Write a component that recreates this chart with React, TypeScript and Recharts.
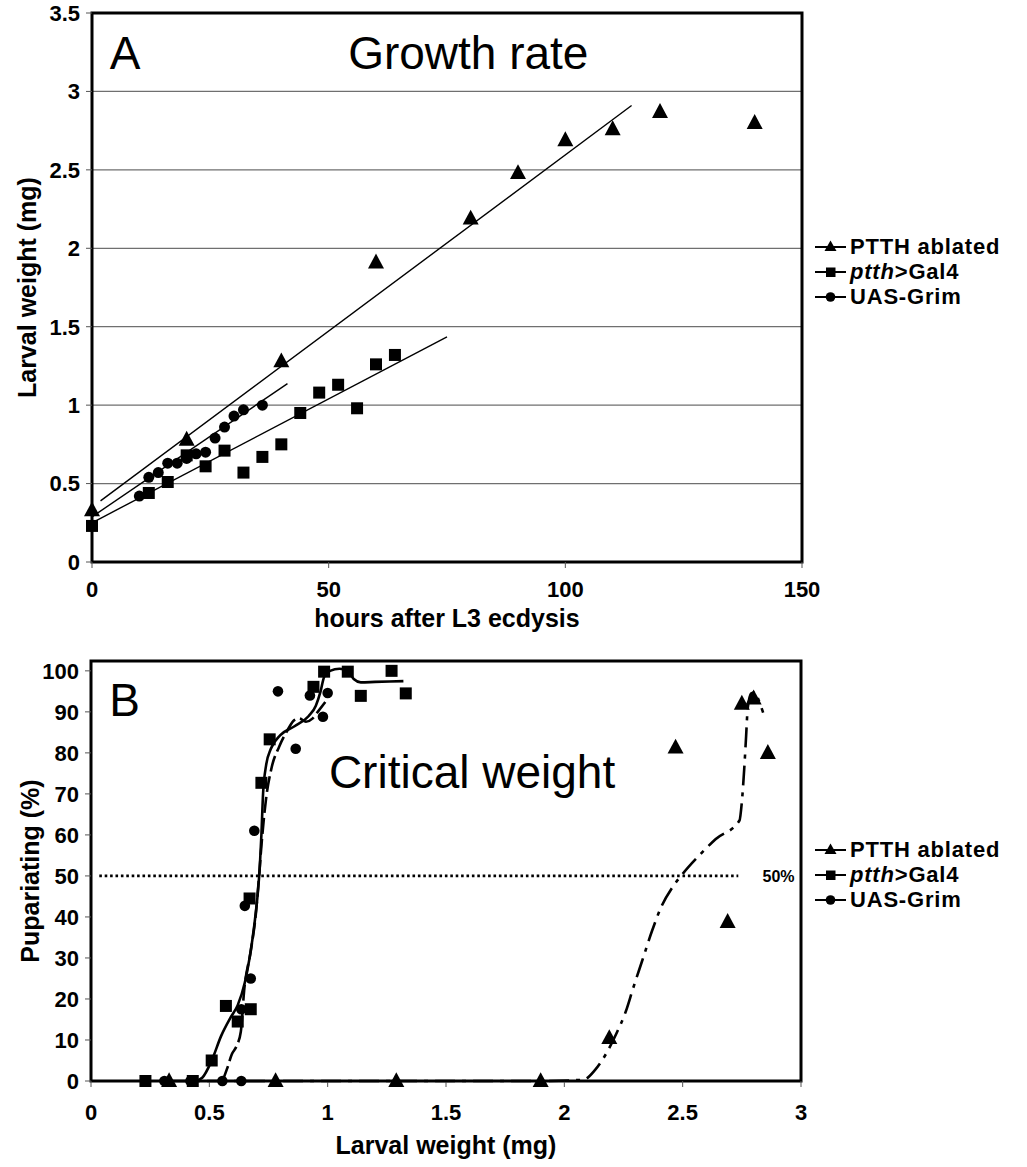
import React from "react";
import {
  ScatterChart,
  Scatter,
  XAxis,
  YAxis,
  CartesianGrid,
  ReferenceArea,
  ReferenceLine,
  ReferenceDot,
  Legend,
} from "recharts";

const FONT = '"Liberation Sans", Arial, Helvetica, sans-serif';

// ---- Panel A: growth rate (hours after L3 ecdysis -> larval weight, mg)
const hoursAblated = [0, 20, 40, 60, 80, 90, 100, 110, 120, 140];
const weightAblated = [0.33, 0.78, 1.28, 1.91, 2.19, 2.48, 2.69, 2.76, 2.87, 2.8];

const hoursGal4 = [0, 12, 16, 20, 24, 28, 32, 36, 40, 44, 48, 52, 56, 60, 64];
const weightGal4 = [0.23, 0.44, 0.51, 0.68, 0.61, 0.71, 0.57, 0.67, 0.75, 0.95, 1.08, 1.13, 0.98, 1.26, 1.32];

const hoursGrim = [10, 12, 14, 16, 18, 20, 22, 24, 26, 28, 30, 32, 36];
const weightGrim = [0.42, 0.54, 0.57, 0.63, 0.63, 0.66, 0.69, 0.7, 0.79, 0.86, 0.93, 0.97, 1.0];

// linear fits (end points as drawn)
const fitHoursAblated = [1.8, 114];
const fitWeightAblated = [0.39, 2.91];
const fitHoursGal4 = [0, 75];
const fitWeightGal4 = [0.25, 1.435];
const fitHoursGrim = [0, 41.3];
const fitWeightGrim = [0.288, 1.137];

const hourTicks = [0, 50, 100, 150];
const weightTicks = [0, 0.5, 1, 1.5, 2, 2.5, 3, 3.5];

// ---- Panel B: critical weight (larval weight, mg -> pupariating, %)
const massAblated = [0.33, 0.78, 1.29, 1.9, 2.19, 2.47, 2.69, 2.75, 2.8, 2.86];
const pctAblated = [0, 0, 0, 0, 10.5, 81.3, 38.8, 92, 93.3, 80];

const massGal4 = [0.23, 0.43, 0.51, 0.57, 0.62, 0.675, 0.67, 0.72, 0.755, 0.94, 0.985, 1.085, 1.14, 1.27, 1.33];
const pctGal4 = [0, 0, 5, 18.3, 14.5, 17.5, 44.5, 72.7, 83.3, 96.1, 99.8, 99.8, 93.9, 100, 94.5];

const massGrim = [0.31, 0.42, 0.555, 0.635, 0.635, 0.65, 0.675, 0.69, 0.79, 0.865, 0.925, 0.98, 1.0];
const pctGrim = [0, 0, 0, 0, 17.5, 42.7, 25, 61, 95, 81, 94, 88.8, 94.6];

// smoothed curves through each genotype
const curveMassGal4 = [0.44, 0.47, 0.51, 0.55, 0.59, 0.62, 0.65, 0.67, 0.69, 0.705, 0.713, 0.72, 0.727, 0.74, 0.76, 0.8, 0.86, 0.92, 0.95, 0.97, 0.985, 1.01, 1.05, 1.085, 1.11, 1.14, 1.2, 1.32];
const curvePctGal4 = [0, 0.8, 5, 11, 15.5, 18.5, 24, 30, 38, 46, 52, 60, 70, 77, 81, 84.3, 86.5, 89, 91.5, 95, 98.5, 100, 100.5, 100, 98, 97.2, 97.3, 97.5];

const curveMassGrim = [0.556, 0.575, 0.595, 0.615, 0.633, 0.647, 0.676, 0.697, 0.711, 0.722, 0.739, 0.764, 0.795, 0.83, 0.859, 0.88, 0.908, 0.937, 0.958, 0.99];
const curvePctGrim = [0, 3, 6.5, 8.5, 12, 22, 32, 41, 50.6, 58.7, 68.5, 76.6, 81.5, 85.5, 88, 88.4, 87.6, 88.4, 90, 92.4];

const curveMassAblated = [0.33, 1.9, 2.08, 2.13, 2.18, 2.22, 2.26, 2.29, 2.33, 2.37, 2.41, 2.46, 2.5, 2.57, 2.64, 2.74, 2.75, 2.76, 2.768, 2.775, 2.79, 2.805, 2.82, 2.84];
const curvePctAblated = [0, 0, 0.3, 2.7, 7, 11.6, 17, 22.5, 29.5, 36.5, 42.5, 47.5, 50.5, 55, 59, 63.5, 68, 76, 84, 91, 94.5, 94.8, 93, 89.8];

const massTicks = [0, 0.5, 1, 1.5, 2, 2.5, 3];
const pctTicks = [0, 10, 20, 30, 40, 50, 60, 70, 80, 90, 100];

const legendNames = ["PTTH ablated", "ptth>Gal4", "UAS-Grim"];

const pts = (xs: number[], ys: number[]) => xs.map((x, i) => ({ x, y: ys[i] }));

const triangle = (w: number) => (p: any) => (
  <path
    d={`M${p.cx},${p.cy - w * 0.55}L${p.cx + w / 2},${p.cy + w * 0.38}L${p.cx - w / 2},${p.cy + w * 0.38}Z`}
    fill="#000"
  />
);
const square = (w: number) => (p: any) => (
  <rect x={p.cx - w / 2} y={p.cy - w / 2} width={w} height={w} fill="#000" />
);
const circle = (r: number) => (p: any) => <circle cx={p.cx} cy={p.cy} r={r} fill="#000" />;
const noMarker = () => <g />;

const tickStyle = { fontSize: 22, fontWeight: 700, fill: "#000", fontFamily: FONT };
const axisTitle = { fontSize: 25, fontWeight: 700, fill: "#000", fontFamily: FONT };
const bigText = { fontSize: 46, fill: "#000", fontFamily: FONT };

function LegendBox() {
  return (
    <div style={{ fontFamily: FONT, fontWeight: 700, fontSize: 22, letterSpacing: 0.8, color: "#000" }}>
      {legendNames.map((name, i) => (
        <div key={name} style={{ display: "flex", alignItems: "center", height: 24.7 }}>
          <svg width={38} height={20}>
            <line x1={3} x2={34} y1={10} y2={10} stroke="#000" strokeWidth={2} />
            {i === 0 && <path d="M18.5,3.5L24.5,14L12.5,14Z" fill="#000" />}
            {i === 1 && <rect x={14} y={5.5} width={9.5} height={9.5} fill="#000" />}
            {i === 2 && <circle cx={18.5} cy={10} r={4.8} fill="#000" />}
          </svg>
          <span style={{ whiteSpace: "nowrap", lineHeight: "22px" }}>
            {i === 1 ? (
              <>
                <i>ptth</i>&gt;Gal4
              </>
            ) : (
              name
            )}
          </span>
        </div>
      ))}
    </div>
  );
}

function GrowthRate() {
  return (
    <ScatterChart width={1027} height={640} margin={{ top: 13, right: 225, left: 0, bottom: 0 }}>
      <CartesianGrid vertical={false} stroke="#6f6f6f" strokeWidth={1.3} />
      <XAxis
        dataKey="x"
        type="number"
        domain={[0, 150]}
        ticks={hourTicks}
        height={78}
        axisLine={false}
        tickSize={6}
        tickMargin={13}
        tickLine={{ stroke: "#555" }}
        tick={tickStyle}
        label={{ value: "hours after L3 ecdysis", position: "insideBottom", offset: 13, ...axisTitle }}
      />
      <YAxis
        dataKey="y"
        type="number"
        domain={[0, 3.5]}
        ticks={weightTicks}
        width={92}
        axisLine={false}
        tickSize={6}
        tickMargin={6}
        tickLine={{ stroke: "#555" }}
        tick={tickStyle}
        label={{
          value: "Larval weight (mg)",
          angle: -90,
          position: "insideLeft",
          offset: 27,
          style: { textAnchor: "middle" },
          ...axisTitle,
        }}
      />
      <Legend
        layout="horizontal"
        align="center"
        verticalAlign="middle"
        width={215}
        wrapperStyle={{ left: 812, top: 235, width: 215 }}
        content={() => <LegendBox />}
      />
      <Scatter data={pts(fitHoursAblated, fitWeightAblated)} line={{ stroke: "#000", strokeWidth: 1.4 }} shape={noMarker} isAnimationActive={false} />
      <Scatter data={pts(fitHoursGal4, fitWeightGal4)} line={{ stroke: "#000", strokeWidth: 1.4 }} shape={noMarker} isAnimationActive={false} />
      <Scatter data={pts(fitHoursGrim, fitWeightGrim)} line={{ stroke: "#000", strokeWidth: 1.4 }} shape={noMarker} isAnimationActive={false} />
      <Scatter name="UAS-Grim" data={pts(hoursGrim, weightGrim)} shape={circle(5.5)} isAnimationActive={false} />
      <Scatter name="ptth>Gal4" data={pts(hoursGal4, weightGal4)} shape={square(12)} isAnimationActive={false} />
      <Scatter name="PTTH ablated" data={pts(hoursAblated, weightAblated)} shape={triangle(16)} isAnimationActive={false} />
      <ReferenceArea x1={0} x2={150} y1={0} y2={3.5} fill="none" stroke="#000" strokeWidth={3} ifOverflow="visible" />
      <ReferenceDot x={7} y={3.25} r={0} stroke="none" label={{ value: "A", position: "center", ...bigText }} />
      <ReferenceDot x={79.5} y={3.25} r={0} stroke="none" label={{ value: "Growth rate", position: "center", ...bigText }} />
    </ScatterChart>
  );
}

function CriticalWeight() {
  return (
    <ScatterChart width={1027} height={527} margin={{ top: 21, right: 226, left: 0, bottom: 0 }}>
      <XAxis
        dataKey="x"
        type="number"
        domain={[0, 3]}
        ticks={massTicks}
        height={86}
        axisLine={false}
        tickSize={6}
        tickMargin={17}
        tickLine={{ stroke: "#555" }}
        tick={tickStyle}
        label={{ value: "Larval weight (mg)", position: "insideBottom", offset: 13, ...axisTitle }}
      />
      <YAxis
        dataKey="y"
        type="number"
        domain={[0, 102.4]}
        ticks={pctTicks}
        width={91}
        axisLine={false}
        tickSize={6}
        tickMargin={6}
        tickLine={{ stroke: "#555" }}
        tick={tickStyle}
        label={{
          value: "Pupariating (%)",
          angle: -90,
          position: "insideLeft",
          offset: 30,
          style: { textAnchor: "middle" },
          ...axisTitle,
        }}
      />
      <Legend
        layout="horizontal"
        align="center"
        verticalAlign="middle"
        width={215}
        wrapperStyle={{ left: 812, top: 198, width: 215 }}
        content={() => <LegendBox />}
      />
      <ReferenceLine
        segment={[
          { x: 0.035, y: 50 },
          { x: 2.735, y: 50 },
        ]}
        stroke="#000"
        strokeWidth={2.6}
        strokeDasharray="2.6 2.8"
        ifOverflow="visible"
      />
      <ReferenceDot x={2.905} y={50} r={0} stroke="none" label={{ value: "50%", position: "center", fontSize: 16, fontWeight: 700, fill: "#000", fontFamily: FONT }} />
      <Scatter data={pts(curveMassGal4, curvePctGal4)} line={{ stroke: "#000", strokeWidth: 2.6 }} lineJointType="monotoneX" shape={noMarker} isAnimationActive={false} />
      <Scatter data={pts(curveMassGrim, curvePctGrim)} line={{ stroke: "#000", strokeWidth: 2.6, strokeDasharray: "16 5" }} lineJointType="monotoneX" shape={noMarker} isAnimationActive={false} />
      <Scatter data={pts(curveMassAblated, curvePctAblated)} line={{ stroke: "#000", strokeWidth: 2.6, strokeDasharray: "20 7 4 7" }} lineJointType="monotoneX" shape={noMarker} isAnimationActive={false} />
      <Scatter name="UAS-Grim" data={pts(massGrim, pctGrim)} shape={circle(5.3)} isAnimationActive={false} />
      <Scatter name="ptth>Gal4" data={pts(massGal4, pctGal4)} shape={square(12)} isAnimationActive={false} />
      <Scatter name="PTTH ablated" data={pts(massAblated, pctAblated)} shape={triangle(16)} isAnimationActive={false} />
      <ReferenceArea x1={0} x2={3} y1={0} y2={102.4} fill="none" stroke="#000" strokeWidth={3} ifOverflow="visible" />
      <ReferenceDot x={0.142} y={93} r={0} stroke="none" label={{ value: "B", position: "center", ...bigText }} />
      <ReferenceDot x={1.61} y={75.4} r={0} stroke="none" label={{ value: "Critical weight", position: "center", ...bigText }} />
    </ScatterChart>
  );
}

export default function App() {
  return (
    <div style={{ position: "absolute", left: 0, top: 0, width: 1027, height: 1167, background: "#fff" }}>
      <div style={{ position: "absolute", left: 0, top: 0 }}>
        <GrowthRate />
      </div>
      <div style={{ position: "absolute", left: 0, top: 640 }}>
        <CriticalWeight />
      </div>
    </div>
  );
}
